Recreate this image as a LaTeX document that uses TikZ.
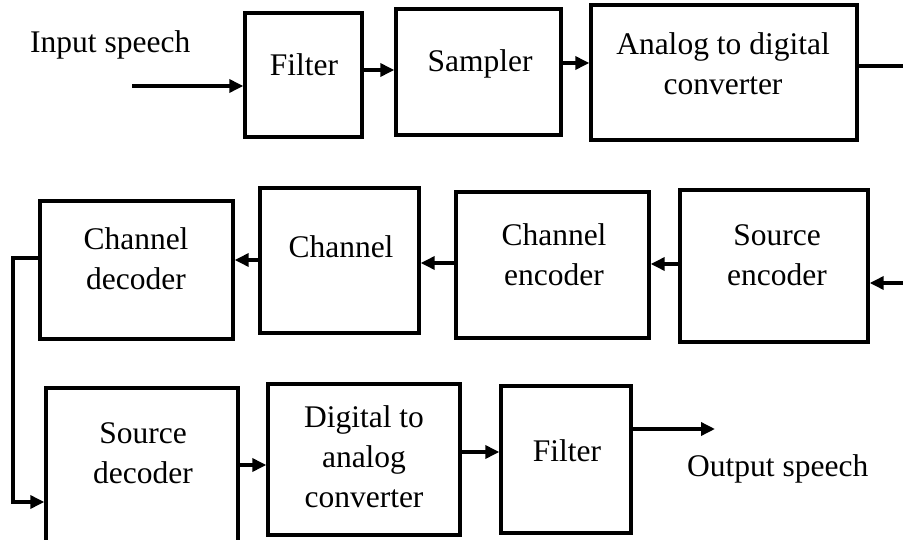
\documentclass[tikz,border=0pt]{standalone}
\usepackage{fontspec}
\setmainfont{Liberation Serif}
\usetikzlibrary{arrows.meta}
% stacked lines of text; the baseline is that of the first line
\newcommand{\stacked}[1]{\begin{tabular}[t]{@{}c@{}}#1\end{tabular}}
\begin{document}
\begin{tikzpicture}[x=1pt,y=-1pt,
  block/.style={draw,line width=3.4pt,inner sep=0pt},
  words/.style={inner sep=0pt,anchor=base,font=\fontsize{31.5}{40}\selectfont},
  flow/.style={line width=3.4pt,-{Triangle[length=14pt,width=13pt]}},
  wire/.style={line width=3.4pt}]
\useasboundingbox (0,0) rectangle (903,540);

% first row: acquisition
\node[block,minimum width=117pt,minimum height=124pt] (f1) at (303.5,75) {};
\node[block,minimum width=165pt,minimum height=126pt] (samp) at (478.5,72) {};
\node[block,minimum width=266pt,minimum height=135pt] (adc) at (724,72.5) {};

% second row: coding and channel
\node[block,minimum width=188pt,minimum height=152pt] (senc) at (774,266) {};
\node[block,minimum width=193pt,minimum height=146pt] (cenc) at (552.5,265) {};
\node[block,minimum width=159pt,minimum height=145pt] (chan) at (339.5,260.5) {};
\node[block,minimum width=193pt,minimum height=138pt] (cdec) at (136.5,270) {};

% third row: reconstruction
\node[block,minimum width=192pt,minimum height=160pt] (sdec) at (142,468) {};
\node[block,minimum width=192pt,minimum height=151pt] (dac) at (364,459.5) {};
\node[block,minimum width=130pt,minimum height=147pt] (f2) at (566,459.5) {};

% texts
\node[words,anchor=base west] (tin) at (30,53) {Input speech};
\node[words] (tf1) at (304,76) {Filter};
\node[words] (tsamp) at (480,72) {Sampler};
\node[words] (tadc) at (723,55) {\stacked{Analog to digital\\converter}};
\node[words] (tsenc) at (777,246) {\stacked{Source\\encoder}};
\node[words] (tcenc) at (554,246) {\stacked{Channel\\encoder}};
\node[words] (tchan) at (341,258) {Channel};
\node[words] (tcdec) at (136,250) {\stacked{Channel\\decoder}};
\node[words] (tsdec) at (143,443) {\stacked{Source\\decoder}};
\node[words] (tdac) at (364,427) {\stacked{Digital to\\analog\\converter}};
\node[words] (tf2) at (567,461) {Filter};
\node[words,anchor=base west] (tout) at (687,476) {Output speech};

% free ends of the connectors
\coordinate (src) at (132,86);
\coordinate (edgeA) at (903,66);
\coordinate (edgeB) at (903,283);
\coordinate (turnA) at (13,258);
\coordinate (turnB) at (13,502);
\coordinate (sink) at (715,429);

% connectors
\draw[flow] (src) -- (src -| f1.west);
\draw[flow] (f1.east |- 0,70) -- (samp.west |- 0,70);
\draw[flow] (samp.east |- 0,63) -- (adc.west |- 0,63);
\draw[wire] (adc.east |- edgeA) -- (edgeA);
\draw[flow] (edgeB) -- (edgeB -| senc.east);
\draw[flow] (senc.west |- 0,264) -- (cenc.east |- 0,264);
\draw[flow] (cenc.west |- 0,263) -- (chan.east |- 0,263);
\draw[flow] (chan.west |- 0,260) -- (cdec.east |- 0,260);
\draw[flow] (cdec.west |- turnA) -- (turnA) -- (turnB) -- (turnB -| sdec.west);
\draw[flow] (sdec.east |- 0,465) -- (dac.west |- 0,465);
\draw[flow] (dac.east |- 0,452) -- (f2.west |- 0,452);
\draw[flow] (f2.east |- sink) -- (sink);
\end{tikzpicture}
\end{document}
